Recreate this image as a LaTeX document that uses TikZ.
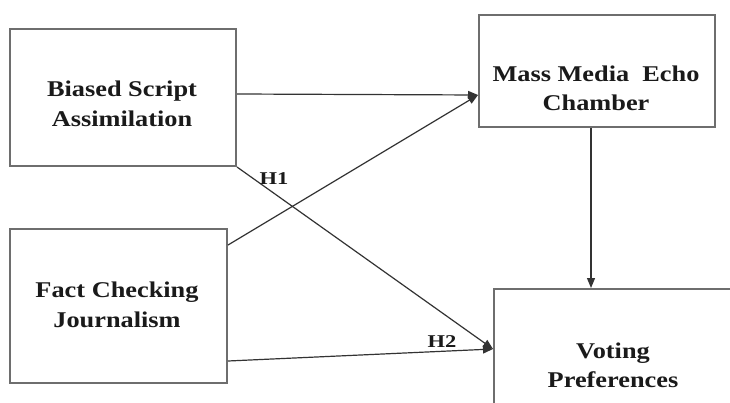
\documentclass[tikz,border=0pt]{standalone}
\usepackage{fontspec}
\setmainfont{Liberation Serif}
\newfontfamily\boxfont[FakeStretch=1.17]{Liberation Serif}
\newfontfamily\hfont[FakeStretch=1.25]{Liberation Serif}
\usetikzlibrary{arrows.meta}
\definecolor{boxgray}{HTML}{6E6E6E}
\definecolor{linegray}{HTML}{333333}
\definecolor{textblack}{HTML}{1A1A1A}
\begin{document}
\begin{tikzpicture}[x=1pt,y=-1pt,
  box/.style={draw=boxgray,line width=2pt,inner sep=0pt},
  txt/.style={anchor=base,inner sep=0pt,text=textblack,font=\boxfont\bfseries\fontsize{22.5}{27}\selectfont},
  hlab/.style={anchor=base,inner sep=0pt,text=textblack,font=\hfont\bfseries\fontsize{18}{20}\selectfont},
  arr/.style={draw=linegray,line width=1.2pt,-{Triangle[length=10pt,width=8pt]}}]
\useasboundingbox (0,0) rectangle (730,403);
\clip (0,0) rectangle (730,403);
\fill[white] (0,0) rectangle (730,403);
% boxes
\node[box,minimum width=226pt,minimum height=137pt] (A) at (123,97.5) {};
\node[box,minimum width=236pt,minimum height=112pt] (B) at (597,71) {};
\node[box,minimum width=217pt,minimum height=154pt] (C) at (118.5,306) {};
\node[box,minimum width=260pt,minimum height=140pt] (D) at (624,359) {};
% texts
\node[txt] (a1) at (122,97) {Biased Script};
\node[txt] (a2) at (122,127) {Assimilation};
\node[txt] (b1) at (596,82) {Mass Media\ \ Echo};
\node[txt] (b2) at (596,111) {Chamber};
\node[txt] (c1) at (117,297) {Fact Checking};
\node[txt] (c2) at (117,327) {Journalism};
\node[txt] (d1) at (613,358) {Voting};
\node[txt] (d2) at (613,387) {Preferences};
% connectors
\draw[arr] ([yshift=3.5pt]A.east) -- ([yshift=-24pt]B.west);
\draw[arr] ([yshift=61pt]C.east) -- ([yshift=-24pt]B.west);
\draw[arr] (A.south east) -- ([yshift=10pt]D.west);
\draw[arr] ([yshift=-55pt]C.east) -- ([yshift=10pt]D.west);
\draw[arr] ([xshift=-6pt]B.south) -- ([xshift=-6pt]B.south |- D.north);
% labels
\node[hlab] (h1) at (274,185) {H1};
\node[hlab] (h2) at (442,347) {H2};
\end{tikzpicture}
\end{document}
